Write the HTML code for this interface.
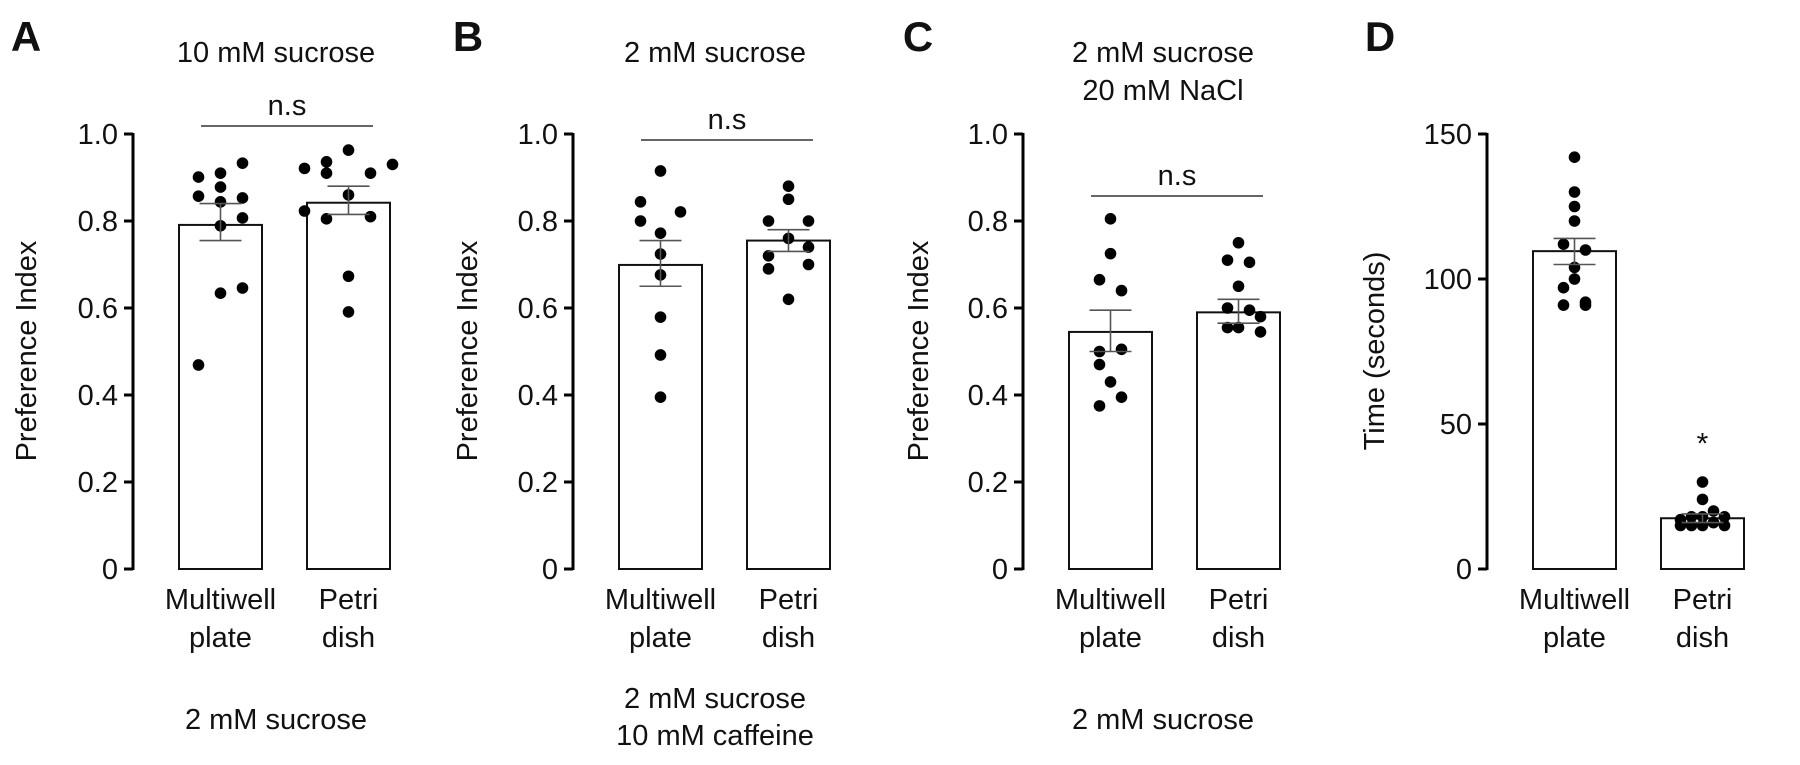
<!DOCTYPE html>
<html><head><meta charset="utf-8"><style>
html,body{margin:0;padding:0;background:#fff;}
svg text{font-family:"Liberation Sans",Arial,sans-serif;fill:#111;}
</style></head><body>
<svg id="fig" width="1800" height="760" viewBox="0 0 1800 760" xmlns="http://www.w3.org/2000/svg"></svg>
<script>
// Panel A data
const catsA = ["Multiwell plate","Petri dish"];
const meansA = [0.791, 0.842];
const semHiA = [0.84, 0.88];
const semLoA = [0.755, 0.815];
const dotsA_mw = [0.901,0.910,0.933,0.857,0.878,0.853,0.844,0.807,0.789,0.634,0.646,0.469];
const colsA_mw = [-1,0,1,-1,0,1,0,1,0,0,1,-1];
const dotsA_pd = [0.963,0.936,0.921,0.910,0.91,0.93,0.860,0.823,0.805,0.81,0.673,0.591];
const colsA_pd = [0,-1,-2,-1,1,2,0,-2,-1,1,0,0];
// Panel B data
const meansB = [0.699, 0.755];
const semHiB = [0.755, 0.78];
const semLoB = [0.65, 0.73];
const dotsB_mw = [0.915,0.844,0.821,0.800,0.772,0.724,0.676,0.579,0.492,0.395];
const colsB_mw = [0,-1,1,-1,0,0,0,0,0,0];
const dotsB_pd = [0.88,0.85,0.80,0.80,0.76,0.74,0.72,0.70,0.69,0.62];
const colsB_pd = [0,0,-1,1,0,1,-1,1,-1,0];
// Panel C data
const meansC = [0.545, 0.59];
const semHiC = [0.595, 0.62];
const semLoC = [0.50, 0.565];
const dotsC_mw = [0.805,0.725,0.665,0.64,0.50,0.505,0.47,0.43,0.395,0.375];
const colsC_mw = [0,0,-1,1,-1,1,-1,0,1,-1];
const dotsC_pd = [0.75,0.71,0.705,0.65,0.60,0.595,0.58,0.555,0.555,0.545];
const colsC_pd = [0,-1,1,0,-1,1,2,-1,0,2];
// Panel D data
const meansD = [109.6, 17.5];
const semHiD = [114, 19];
const semLoD = [105, 16];
const dotsD_mw = [142,130,125,120,112,110,104,100,97,92,91,91];
const colsD_mw = [0,0,0,0,-1,1,0,0,-1,1,-1,1];
const dotsD_pd = [30,24,20,18,18,18,17,16,15,15,15,15];
const colsD_pd = [0,0,1,-1,0,2,-2,1,-1,0,2,-2];
const ticksPI = [0,0.2,0.4,0.6,0.8,1.0];
const tickLabelsPI = ["0","0.2","0.4","0.6","0.8","1.0"];
const ticksD = [0,50,100,150];
const tickLabelsD = ["0","50","100","150"];

const NS="http://www.w3.org/2000/svg";
const svg=document.getElementById('fig');
function mk(tag,attrs,parent){const e=document.createElementNS(NS,tag);for(const k in attrs)e.setAttribute(k,attrs[k]);(parent||svg).appendChild(e);return e;}
function txt(s,x,y,size,parent,anchor,weight){const t=mk('text',{x:x,y:y,'font-size':size,'text-anchor':anchor||'middle','font-weight':weight||'normal'},parent);t.textContent=s;return t;}
const FS=29;
function panel(o){
  const g=mk('g',{});
  
  
  const y0=569, y1=134;
  const ys=v=>y0-(v/o.max)*(y0-y1);
  const ax=o.ax;
  const axis=mk('line',{x1:ax,y1:y1-1,x2:ax,y2:y0+1,stroke:'#000','stroke-width':3},g);
  
  
  o.ticks.forEach((t,i)=>{
    mk('line',{x1:ax-9,y1:ys(t),x2:ax,y2:ys(t),stroke:'#000','stroke-width':3},g);
    const tl=txt(o.tickLabels[i],ax-15,ys(t)+10,FS,g,'end');
    
    
  });
  const yt=txt(o.ylabel,0,0,FS,g);
  yt.setAttribute('transform','translate('+o.ylx+',351) rotate(-90)');
  
  
  const bw=83;
  const series=[[o.dots0,o.cols0],[o.dots1,o.cols1]];
  for(let i=0;i<2;i++){
    const bx=ax+46+i*128, cx=bx+bw/2;
    const b=mk('rect',{x:bx,y:ys(o.means[i]),width:bw,height:y0-ys(o.means[i]),fill:'#fff',stroke:'#111','stroke-width':2},g);
    
    
    const [ds,cs]=series[i];
    ds.forEach((v,j)=>{
      const c=mk('circle',{cx:cx+cs[j]*o.jit,cy:ys(v),r:5.8,fill:'#000'},g);
      
      
    });
    const eg=mk('g',{stroke:'#555','stroke-width':1.6},g);
    
    
    mk('line',{x1:cx,y1:ys(o.hi[i]),x2:cx,y2:ys(o.lo[i])},eg);
    mk('line',{x1:cx-21,y1:ys(o.hi[i]),x2:cx+21,y2:ys(o.hi[i])},eg);
    mk('line',{x1:cx-21,y1:ys(o.lo[i]),x2:cx+21,y2:ys(o.lo[i])},eg);
    const l1=txt(i?'Petri':'Multiwell',cx,609,FS,g);
    
    
    const l2=txt(i?'dish':'plate',cx,647,FS,g);
    
    
  }
  const pl=txt(o.id,o.lx,51,42,g,'middle','bold');
  
  
  o.titles.forEach((t,k)=>{
    const tt=txt(t,o.tx,62+k*38,FS,g);
    
    
  });
  o.subs.forEach((t,k)=>{
    const st=txt(t,o.tx,o.subY+k*37,FS,g);
    
    
  });
  if(o.nsY){
    const l=mk('line',{x1:ax+68,y1:o.nsY,x2:ax+240,y2:o.nsY,stroke:'#333','stroke-width':1.6},g);
    
    
    const n=txt('n.s',ax+154,o.nsY-11,FS,g);
    
    
  }
  if(o.star){
    const s=txt('*',ax+46+128+bw/2,ys(o.star)+12,30,g);
    
    
  }
}
panel({id:'A',ax:133,max:1,ticks:ticksPI,tickLabels:tickLabelsPI,ylabel:'Preference Index',ylx:36,means:meansA,hi:semHiA,lo:semLoA,dots0:dotsA_mw,cols0:colsA_mw,dots1:dotsA_pd,cols1:colsA_pd,jit:22,lx:26,tx:276,titles:['10 mM sucrose'],subs:['2 mM sucrose'],subY:729,nsY:126});
panel({id:'B',ax:573,max:1,ticks:ticksPI,tickLabels:tickLabelsPI,ylabel:'Preference Index',ylx:477,means:meansB,hi:semHiB,lo:semLoB,dots0:dotsB_mw,cols0:colsB_mw,dots1:dotsB_pd,cols1:colsB_pd,jit:20,lx:468,tx:715,titles:['2 mM sucrose'],subs:['2 mM sucrose','10 mM caffeine'],subY:708,nsY:140});
panel({id:'C',ax:1023,max:1,ticks:ticksPI,tickLabels:tickLabelsPI,ylabel:'Preference Index',ylx:928,means:meansC,hi:semHiC,lo:semLoC,dots0:dotsC_mw,cols0:colsC_mw,dots1:dotsC_pd,cols1:colsC_pd,jit:11,lx:918,tx:1163,titles:['2 mM sucrose','20 mM NaCl'],subs:['2 mM sucrose'],subY:729,nsY:196});
panel({id:'D',ax:1487,max:150,ticks:ticksD,tickLabels:tickLabelsD,ylabel:'Time (seconds)',ylx:1384,means:meansD,hi:semHiD,lo:semLoD,dots0:dotsD_mw,cols0:colsD_mw,dots1:dotsD_pd,cols1:colsD_pd,jit:11,lx:1380,tx:1600,titles:[],subs:[],subY:0,nsY:0,star:44});
</script>
</body></html>
